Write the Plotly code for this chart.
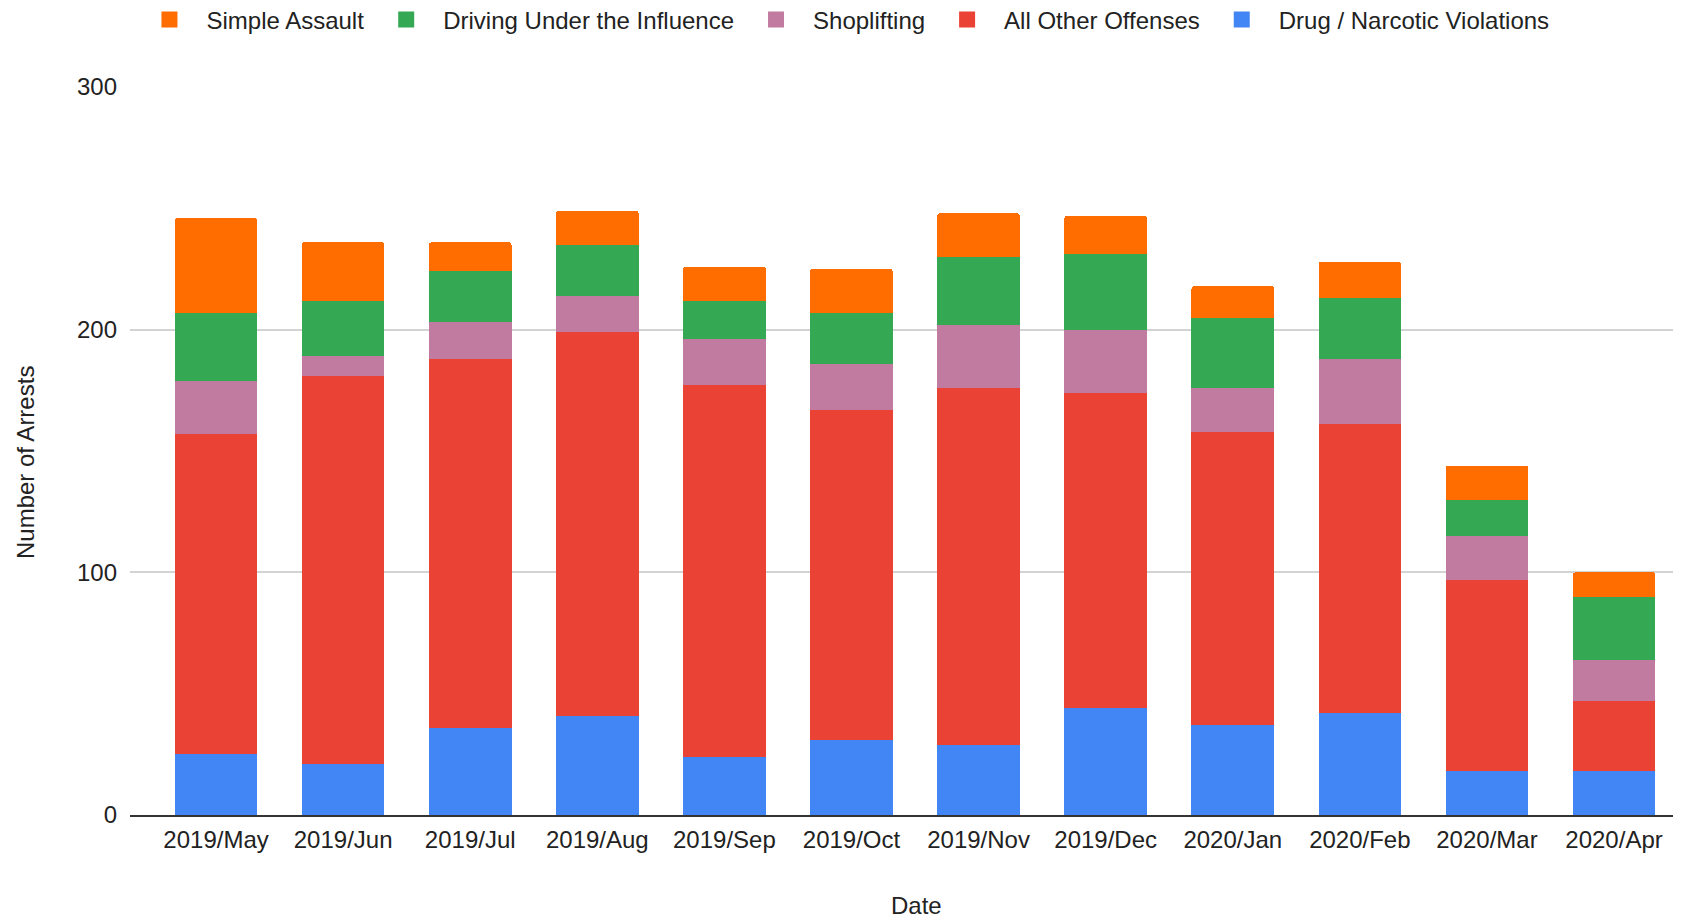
import plotly.graph_objects as go

months = ["2019/May", "2019/Jun", "2019/Jul", "2019/Aug", "2019/Sep", "2019/Oct",
          "2019/Nov", "2019/Dec", "2020/Jan", "2020/Feb", "2020/Mar", "2020/Apr"]

# arrests per offense, stacked bottom to top
drug = [25, 21, 36, 41, 24, 31, 29, 44, 37, 42, 18, 18]
other = [132, 160, 152, 158, 153, 136, 147, 130, 121, 119, 79, 29]
shoplifting = [22, 8, 15, 15, 19, 19, 26, 26, 18, 27, 18, 17]
dui = [28, 23, 21, 21, 16, 21, 28, 31, 29, 25, 15, 26]
assault = [39, 24, 12, 14, 14, 18, 18, 16, 13, 15, 14, 10]

series = [
    ("Drug / Narcotic Violations", drug, "#4285f4"),
    ("All Other Offenses", other, "#ea4335"),
    ("Shoplifting", shoplifting, "#c27ba0"),
    ("Driving Under the Influence", dui, "#34a853"),
    ("Simple Assault", assault, "#ff6d01"),
]

fig = go.Figure()
for name, vals, color in series:
    fig.add_trace(go.Bar(x=months, y=vals, name=name, marker_color=color,
                         marker_line_width=0, legendgroup=name, showlegend=False))
    # bigger square swatch for the legend
    fig.add_trace(go.Scatter(x=[None], y=[None], mode="markers", name=name,
                             legendgroup=name,
                             marker=dict(symbol="square", size=16, color=color)))

font = "Liberation Sans, Arial, sans-serif"

# page body has an 8px margin, so the figure is 8px smaller and offsets shift
fig.update_layout(
    barmode="stack",
    bargap=0.35,
    barcornerradius=3,
    width=1673,
    height=912,
    plot_bgcolor="white",
    paper_bgcolor="white",
    font=dict(family=font, size=24, color="#222"),
    margin=dict(l=122, r=0, t=79, b=105, autoexpand=False),
    legend=dict(orientation="h", x=0.460, xanchor="center", y=1.092, yanchor="middle",
                traceorder="reversed", font=dict(size=24), itemwidth=64),
    xaxis=dict(
        range=[-0.677, 11.527],
        showgrid=False,
        showline=True, linecolor="#333", linewidth=2,
        ticklabelstandoff=2,
        automargin=False,
    ),
    yaxis=dict(
        range=[0, 300],
        tickvals=[0, 100, 200, 300],
        gridcolor="#d3d3d3", gridwidth=1.5,
        zeroline=False,
        ticklabelstandoff=12,
        automargin=False,
    ),
)

# axis titles as annotations so they sit where the original has them
title_font = dict(family=font, size=24, color="#222")
fig.add_annotation(text="Date", xref="paper", yref="paper", x=0.507, y=0,
                   yshift=-90, showarrow=False, xanchor="center", yanchor="middle",
                   font=title_font)
fig.add_annotation(text="Number of Arrests", xref="paper", yref="paper", x=0, y=0.4835,
                   xshift=-105, textangle=-90, showarrow=False,
                   xanchor="center", yanchor="middle", font=title_font)

fig.write_html("out.html")
